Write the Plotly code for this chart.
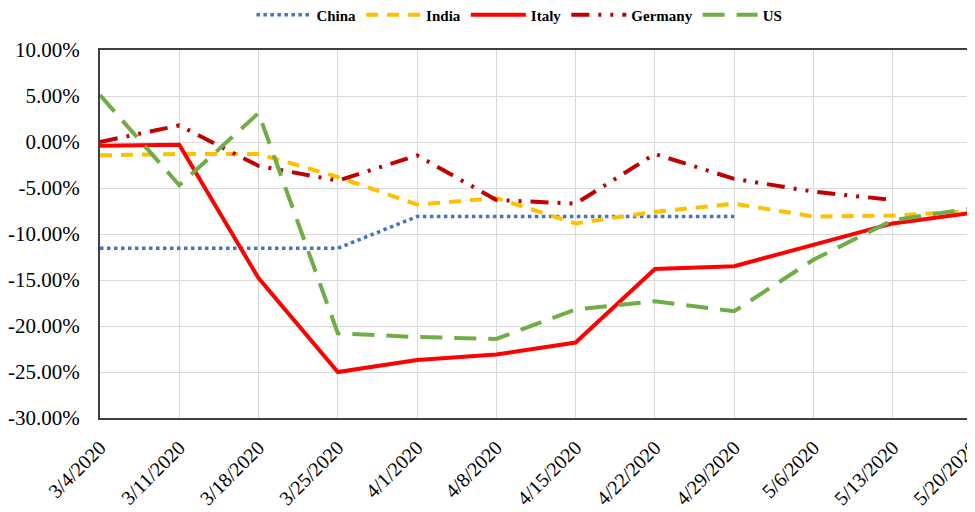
import plotly.graph_objects as go

dates = ["3/4/2020", "3/11/2020", "3/18/2020", "3/25/2020", "4/1/2020", "4/8/2020",
         "4/15/2020", "4/22/2020", "4/29/2020", "5/6/2020", "5/13/2020", "5/20/2020"]

china = [-11.55, -11.55, -11.55, -11.55, -8.1, -8.1, -8.1, -8.1, -8.1, None, None, None]
india = [-1.45, -1.3, -1.3, -3.8, -6.8, -6.1, -8.85, -7.6, -6.7, -8.1, -8.0, -7.5]
italy = [-0.4, -0.3, -14.8, -25.0, -23.7, -23.1, -21.8, -13.8, -13.5, -11.2, -8.85, -7.7]
germany = [0.0, 1.8, -2.6, -4.2, -1.45, -6.3, -6.7, -1.3, -4.0, -5.4, -6.3, None]
us = [5.1, -4.7, 3.15, -20.8, -21.2, -21.4, -18.2, -17.3, -18.4, -12.8, -8.5, -7.2]

y_ticks = [10, 5, 0, -5, -10, -15, -20, -25, -30]
y_labels = [f"{v:.2f}%" for v in y_ticks]

series = [
    ("China", china, "#4472C4", "dot", 3.5),
    ("India", india, "#FFC000", "12px,9px", 4),
    ("Italy", italy, "#FF0000", "solid", 4),
    ("Germany", germany, "#C00000", "18px,9px,3px,9px,3px,9px", 4),
    ("US", us, "#70AD47", "22px,12px", 4),
]

fig = go.Figure()
for name, vals, color, dash, w in series:
    fig.add_trace(go.Scatter(
        x=list(range(len(dates))), y=vals, name=name, mode="lines",
        line=dict(color=color, dash=dash, width=w), connectgaps=False,
    ))

fig.update_layout(
    width=967, height=504,
    margin=dict(l=92, r=3, t=42, b=94, autoexpand=False),
    paper_bgcolor="white", plot_bgcolor="white",
    font=dict(family="Liberation Serif, Times New Roman, serif", color="black"),
    legend=dict(orientation="h", x=0.481, xanchor="center", y=1.095, yanchor="middle",
                font=dict(size=15, family="Liberation Serif, serif", weight="bold"),
                itemwidth=55, traceorder="normal"),
    showlegend=True,
)
fig.update_xaxes(
    tickmode="array", tickvals=list(range(len(dates))), ticktext=dates,
    range=[0, len(dates) - 1], tickangle=-45, tickfont=dict(size=20),
    showgrid=True, gridcolor="#d9d9d9", gridwidth=1,
    showline=True, linecolor="#404040", linewidth=2, mirror=True,
    zeroline=False, ticks="", automargin=False, ticklabelstandoff=8,
    ticklabeloverflow="allow",
)
fig.update_yaxes(
    tickmode="array", tickvals=y_ticks, ticktext=y_labels,
    range=[-30, 10], tickfont=dict(size=21),
    showgrid=True, gridcolor="#d9d9d9", gridwidth=1,
    showline=True, linecolor="#404040", linewidth=2, mirror=True,
    zeroline=False, ticks="", ticklabelstandoff=14, automargin=False,
)

fig.write_html("out.html")
